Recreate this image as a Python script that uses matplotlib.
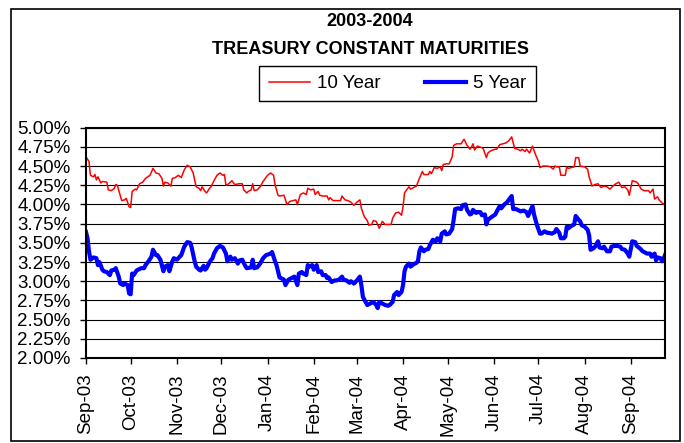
import numpy as np
import matplotlib
matplotlib.use('Agg')
import matplotlib.pyplot as plt
import matplotlib.dates as mdates
from matplotlib.ticker import FuncFormatter, MultipleLocator
from matplotlib.patches import Rectangle

plt.rcParams['font.family'] = ['Liberation Sans', 'DejaVu Sans']

# axis range (dates)
start = np.datetime64('2003-09-01')
end = np.datetime64('2004-09-24')

# 10 year constant maturity (days after 2003-09-01, %)
days_10y = [0, 2, 3, 5, 6, 7, 8, 10, 11, 14, 15, 17, 19, 20, 21, 23, 24, 26, 27, 29,
            30, 31, 33, 34, 36, 38, 40, 43, 45, 47, 49, 51, 52, 53, 55, 57, 58, 60, 62, 64,
            66, 68, 70, 72, 74, 76, 77, 78, 80, 81, 83, 84, 86, 88, 90, 92, 93, 94, 96, 98,
            100, 103, 105, 106, 108, 109, 111, 112, 113, 115, 117, 119, 122, 124, 126, 127,
            129, 130, 133, 135, 137, 139, 141, 142, 144, 146, 148, 149, 151, 153, 154, 156,
            157, 159, 162, 163, 164, 166, 168, 171, 172, 174, 176, 178, 180, 182, 184, 185,
            187, 189, 190, 192, 193, 195, 197, 198, 199, 201, 203, 205, 206, 208, 210, 212,
            213, 214, 215, 217, 218, 221, 222, 224, 226, 227, 230, 231, 232, 234, 236, 238,
            239, 240, 242, 244, 246, 247, 249, 252, 254, 256, 258, 259, 260, 261, 263, 266,
            267, 269, 270, 272, 275, 276, 278, 280, 282, 284, 286, 288, 290, 292, 293, 295,
            296, 298, 300, 302, 304, 305, 307, 310, 312, 314, 315, 316, 318, 319, 322, 323,
            324, 326, 328, 329, 331, 332, 335, 337, 338, 340, 342, 344, 346, 348, 350, 352,
            354, 356, 358, 360, 362, 364, 365, 367, 370, 371, 373, 375, 378, 379, 381, 382,
            384, 385, 388, 389]
yield_10y = [4.62, 4.56, 4.38, 4.36, 4.39, 4.32, 4.36, 4.28, 4.30, 4.29, 4.19, 4.18, 4.21, 4.26, 4.25, 4.12, 4.05, 4.06, 4.08, 3.97,
             3.96, 4.17, 4.20, 4.19, 4.27, 4.29, 4.34, 4.38, 4.47, 4.41, 4.40, 4.34, 4.24, 4.29, 4.28, 4.24, 4.34, 4.35, 4.38, 4.35,
             4.45, 4.51, 4.49, 4.41, 4.23, 4.21, 4.18, 4.23, 4.17, 4.15, 4.21, 4.23, 4.31, 4.38, 4.41, 4.38, 4.39, 4.25, 4.27, 4.31,
             4.26, 4.27, 4.27, 4.19, 4.15, 4.17, 4.19, 4.27, 4.18, 4.19, 4.23, 4.30, 4.38, 4.41, 4.38, 4.26,
             4.12, 4.11, 4.12, 4.00, 4.04, 4.05, 4.06, 4.00, 4.13, 4.15, 4.13, 4.21, 4.19, 4.20, 4.13, 4.17,
             4.12, 4.11, 4.11, 4.06, 4.09, 4.05, 4.05, 4.05, 4.11, 4.06, 4.05, 4.03, 3.99, 4.03, 4.06, 3.95,
             3.84, 3.79, 3.73, 3.74, 3.79, 3.78, 3.69, 3.73, 3.78, 3.74, 3.74, 3.74, 3.82, 3.89, 3.90, 3.86,
             3.97, 4.15, 4.18, 4.23, 4.20, 4.23, 4.24, 4.34, 4.43, 4.39, 4.39, 4.43, 4.40, 4.48, 4.47, 4.49,
             4.44, 4.52, 4.53, 4.53, 4.62, 4.77, 4.79, 4.79, 4.85, 4.77, 4.72, 4.75, 4.79, 4.71, 4.76, 4.74,
             4.72, 4.61, 4.67, 4.70, 4.72, 4.72, 4.78, 4.79, 4.80, 4.83, 4.88, 4.73, 4.72, 4.70, 4.72, 4.69,
             4.72, 4.67, 4.76, 4.65, 4.56, 4.48, 4.50, 4.50, 4.49, 4.46, 4.50, 4.49, 4.49, 4.38, 4.38, 4.49,
             4.47, 4.48, 4.49, 4.61, 4.61, 4.50, 4.49, 4.46, 4.36, 4.24, 4.26, 4.27, 4.22, 4.24, 4.23, 4.20,
             4.24, 4.27, 4.29, 4.22, 4.23, 4.19, 4.12, 4.31, 4.29, 4.27, 4.20, 4.18, 4.18, 4.15, 4.20, 4.07,
             4.10, 4.06, 4.00, 4.03]

# 5 year constant maturity
days_5y = [0, 1, 2, 3, 5, 7, 8, 9, 11, 12, 14, 16, 17, 19, 20, 22, 23, 25, 26, 28,
           29, 30, 31, 32, 34, 35, 37, 39, 40, 42, 44, 45, 47, 48, 50, 52, 53, 55, 56, 58,
           59, 61, 63, 64, 66, 68, 70, 71, 73, 74, 76, 77, 79, 80, 81, 83, 85, 86, 88, 90,
           92, 94, 95, 97, 98, 100, 102, 103, 105, 107, 108, 111, 112, 113, 115, 117, 119, 121,
           124, 125, 127, 128, 130, 131, 133, 134, 136, 138, 140, 142, 143, 145, 146, 148, 149,
           150, 152, 153, 155, 156, 158, 159, 161, 162, 163, 165, 167, 168, 170, 172, 173, 175,
           177, 178, 180, 182, 184, 185, 186, 187, 189, 191, 193, 195, 196, 197, 199, 201, 203,
           204, 206, 207, 209, 210, 212, 213, 214, 215, 217, 218, 220, 222, 223, 224, 225, 227,
           228, 230, 231, 233, 235, 236, 238, 239, 241, 242, 244, 246, 247, 248, 250, 252, 253,
           255, 256, 258, 259, 260, 262, 263, 265, 266, 268, 269, 270, 272, 275, 276, 278, 279,
           281, 283, 284, 286, 287, 289, 291, 292, 294, 296, 297, 300, 301, 303, 305, 306, 308,
           310, 311, 313, 315, 316, 318, 319, 321, 322, 323, 324, 326, 328, 329, 331, 332, 333,
           335, 337, 338, 339, 341, 342, 344, 345, 347, 348, 350, 352, 353, 355, 357, 359, 360,
           362, 364, 365, 367, 369, 370, 372, 374, 375, 377, 379, 380, 382, 383, 384, 386, 387,
           388, 389]
yield_5y = [3.64, 3.56, 3.39, 3.28, 3.31, 3.30, 3.21, 3.25, 3.15, 3.13, 3.12, 3.08, 3.14, 3.15, 3.17, 3.06, 2.97, 2.95, 2.97, 2.95,
            2.84, 2.83, 3.10, 3.08, 3.14, 3.15, 3.17, 3.17, 3.21, 3.26, 3.32, 3.41, 3.34, 3.34, 3.28, 3.13, 3.19, 3.21, 3.13, 3.26,
            3.30, 3.28, 3.32, 3.34, 3.45, 3.51, 3.50, 3.44, 3.26, 3.19, 3.15, 3.14, 3.20, 3.15, 3.17, 3.25, 3.30, 3.36, 3.43, 3.46,
            3.44, 3.36, 3.26, 3.32, 3.28, 3.30, 3.23, 3.27, 3.28, 3.20, 3.17, 3.18, 3.28, 3.17, 3.18, 3.23, 3.30, 3.34,
            3.36, 3.38, 3.26, 3.21, 3.05, 3.04, 3.02, 2.95, 3.02, 3.04, 3.06, 2.95, 3.10, 3.12, 3.10, 3.08, 3.21,
            3.19, 3.21, 3.15, 3.21, 3.12, 3.13, 3.08, 3.08, 3.04, 3.05, 2.99, 3.01, 3.01, 3.02, 3.06, 3.02, 3.01,
            2.98, 3.00, 2.97, 3.01, 3.06, 2.95, 2.80, 2.76, 2.69, 2.71, 2.73, 2.69, 2.65, 2.73, 2.71, 2.69, 2.68,
            2.69, 2.73, 2.82, 2.86, 2.82, 2.86, 2.95, 3.13, 3.19, 3.23, 3.19, 3.22, 3.24, 3.26, 3.39, 3.44, 3.39,
            3.41, 3.42, 3.47, 3.54, 3.52, 3.56, 3.52, 3.62, 3.65, 3.61, 3.62, 3.68, 3.80, 3.94, 3.95, 3.94, 3.99,
            4.00, 3.93, 3.87, 3.88, 3.93, 3.89, 3.90, 3.90, 3.86, 3.87, 3.74, 3.80, 3.83, 3.87, 3.91, 3.98, 3.95,
            4.00, 4.03, 4.06, 4.11, 3.94, 3.94, 3.92, 3.91, 3.92, 3.90, 3.85, 3.98, 3.87, 3.73, 3.62, 3.62, 3.65,
            3.63, 3.63, 3.62, 3.64, 3.68, 3.63, 3.56, 3.56, 3.58, 3.71, 3.69, 3.72, 3.74, 3.85, 3.80, 3.78, 3.73,
            3.71, 3.67, 3.60, 3.41, 3.43, 3.45, 3.52, 3.44, 3.43, 3.45, 3.39, 3.39, 3.45, 3.46, 3.46, 3.45, 3.42,
            3.41, 3.36, 3.32, 3.52, 3.51, 3.46, 3.43, 3.39, 3.38, 3.36, 3.36, 3.32, 3.36, 3.27, 3.31, 3.30, 3.26,
            3.29, 3.34]

title_lines = ['2003-2004', 'TREASURY CONSTANT MATURITIES']
series_names = ['10 Year', '5 Year']


def to_dates(days):
    return start + np.array(days, dtype='timedelta64[D]')


fig = plt.figure(figsize=(6.84, 4.43), dpi=100)
ax = fig.add_axes([86 / 684, 1 - 358 / 443, (665 - 86) / 684, (358 - 127.7) / 443])

ax.plot(to_dates(days_10y), yield_10y, color='#ff0000', lw=1.1, label=series_names[0])
ax.plot(to_dates(days_5y), yield_5y, color='#0000ff', lw=3.0, label=series_names[1])

ax.set_xlim(start, end)
ax.set_ylim(2.0, 5.0)
ax.yaxis.set_major_locator(MultipleLocator(0.25))
ax.yaxis.set_major_formatter(FuncFormatter(lambda v, p: '{:.2f}%'.format(v)))
ax.xaxis.set_major_locator(mdates.MonthLocator())
ax.xaxis.set_major_formatter(mdates.DateFormatter('%b-%y'))
plt.setp(ax.get_xticklabels(), rotation=90)
ax.tick_params(labelsize=13.5, length=4, width=1, pad=7, direction='out')
ax.grid(axis='y', color='black', lw=0.8)
ax.set_axisbelow(True)
for s in ax.spines.values():
    s.set_linewidth(1.5)
    s.set_color('black')

fig.text(370 / 684, 1 - 22 / 443, title_lines[0], ha='center', va='center',
         fontsize=13, fontweight='bold')
fig.text(370 / 684, 1 - 50 / 443, title_lines[1], ha='center', va='center',
         fontsize=13, fontweight='bold')

leg = fig.legend(loc='center', bbox_to_anchor=(397.5 / 684, 1 - 83.5 / 443), ncol=2,
                 frameon=True, fancybox=False, framealpha=1, edgecolor='black',
                 fontsize=13.5, handlelength=2.2, handletextpad=0.35,
                 columnspacing=2.4, borderpad=0.5)
leg.get_frame().set_linewidth(1.0)

# outer chart border
fig.patches.append(Rectangle((11 / 684, 1 - 441 / 443), (680 - 11) / 684, (441 - 9) / 443,
                             transform=fig.transFigure, fill=False, ec='black', lw=1.2))

plt.savefig('out.png', dpi=100)
plt.close()
